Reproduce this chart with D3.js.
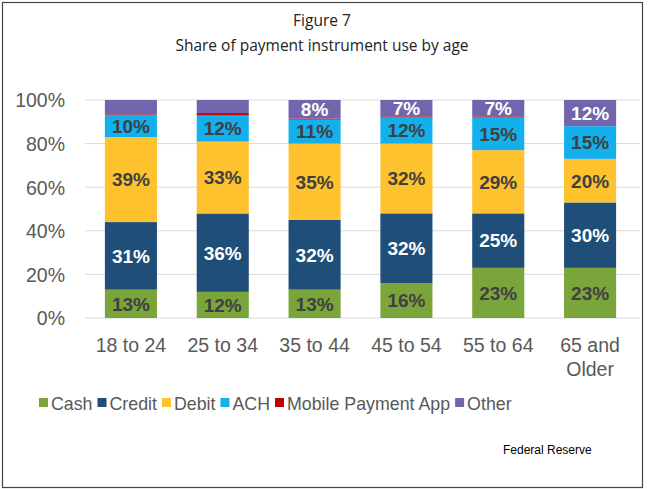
<!DOCTYPE html>
<html>
<head>
<meta charset="utf-8">
<script src="https://cdn.jsdelivr.net/npm/d3@7"></script>
<style>
  body { margin: 0; background: #fff; }
  svg { display: block; }
</style>
</head>
<body>
<div class="canvas"></div>
<script>
const ages = ['18 to 24', '25 to 34', '35 to 44', '45 to 54', '55 to 64', '65 and Older'];
const seriesNames = ['Cash', 'Credit', 'Debit', 'ACH', 'Mobile Payment App', 'Other'];

// share (%) per age group, one array per instrument
const cash   = [13, 12, 13, 16, 23, 23];
const credit = [31, 36, 32, 32, 25, 30];
const debit  = [39, 33, 35, 32, 29, 20];
const ach    = [10, 12, 11, 12, 15, 15];
const mobile = [0.4, 1.1, 0.5, 0.5, 0.5, 0];
const other  = [6.6, 6, 8.5, 7.5, 7.5, 12];

// labels shown on the Other segments (null = no label)
const otherLabels = [null, null, '8%', '7%', '7%', '12%'];

const yTicks = [0, 0.2, 0.4, 0.6, 0.8, 1];

const colors = ['#7aa53a', '#1f4e79', '#fec22f', '#13b0ec', '#c00000', '#7166ad'];
const labelFill = ['#404040', '#fff', '#404040', '#404040', null, '#fff'];

const dims = { width: 663, height: 489 };
const plot = { left: 85, right: 636, top: 100, bottom: 318 };

const svg = d3.select('.canvas')
  .append('svg')
  .attr('width', dims.width)
  .attr('height', dims.height);

svg.append('rect')
  .attr('x', 2.5).attr('y', 2.5)
  .attr('width', 640).attr('height', 485)
  .attr('fill', '#fff')
  .attr('stroke', '#444')
  .attr('stroke-width', 1.2);

// title
const titleFont = '"Open Sans", sans-serif';
svg.append('text')
  .attr('x', 322).attr('y', 26)
  .attr('text-anchor', 'middle')
  .attr('font-family', titleFont)
  .attr('font-size', 15.5)
  .attr('fill', '#222')
  .text('Figure 7');
svg.append('text')
  .attr('x', 322).attr('y', 51)
  .attr('text-anchor', 'middle')
  .attr('font-family', titleFont)
  .attr('font-size', 15.5)
  .attr('fill', '#222')
  .text('Share of payment instrument use by age');

const table = ages.map((age, i) => ({
  age,
  Cash: cash[i], Credit: credit[i], Debit: debit[i], ACH: ach[i],
  'Mobile Payment App': mobile[i], Other: other[i]
}));

const stack = d3.stack().keys(seriesNames).offset(d3.stackOffsetExpand);
const stacked = stack(table);

const x = d3.scaleBand()
  .domain(ages)
  .range([plot.left, plot.right])
  .paddingInner(0.433)
  .paddingOuter(0.2165);

const y = d3.scaleLinear()
  .domain([0, 1])
  .range([plot.bottom, plot.top]);

const font = '"Liberation Sans", Arial, sans-serif';
const axisSize = 19.5;

// gridlines
svg.append('g')
  .selectAll('line')
  .data(yTicks)
  .enter().append('line')
  .attr('x1', plot.left).attr('x2', 640)
  .attr('y1', d => y(d)).attr('y2', d => y(d))
  .attr('stroke', '#d9d9d9')
  .attr('stroke-width', 1);

// y axis
const yAxis = svg.append('g')
  .attr('transform', `translate(${plot.left - 20}, 0)`)
  .call(d3.axisLeft(y).tickValues(yTicks).tickFormat(d3.format('.0%')).tickSize(0).tickPadding(0));
yAxis.select('.domain').remove();
yAxis.selectAll('text')
  .attr('font-family', font)
  .attr('font-size', axisSize)
  .attr('fill', '#595959')
  .attr('dy', '0.35em');

// x axis labels
const xAxis = svg.append('g')
  .attr('transform', `translate(0, ${plot.bottom})`)
  .call(d3.axisBottom(x).tickSize(0).tickPadding(0).tickFormat(''));
xAxis.select('.domain').remove();
xAxis.selectAll('.tick').each(function (d) {
  const t = d3.select(this).append('text')
    .attr('text-anchor', 'middle')
    .attr('font-family', font)
    .attr('font-size', axisSize)
    .attr('fill', '#595959');
  const parts = d === '65 and Older' ? ['65 and', 'Older'] : [d];
  parts.forEach((p, k) => {
    t.append('tspan').attr('x', 0).attr('y', 34 + k * 24).text(p);
  });
});

// bars
const layers = svg.append('g')
  .selectAll('g')
  .data(stacked)
  .enter().append('g')
  .attr('fill', (d, i) => colors[i]);

layers.selectAll('rect')
  .data(d => d)
  .enter().append('rect')
  .attr('x', d => x(d.data.age))
  .attr('width', x.bandwidth())
  .attr('y', d => y(d[1]))
  .attr('height', d => y(d[0]) - y(d[1]));

// segment labels
const labels = svg.append('g')
  .attr('font-family', font)
  .attr('font-weight', 'bold')
  .attr('font-size', 19)
  .attr('text-anchor', 'middle');

stacked.forEach((layer, si) => {
  if (!labelFill[si]) return;
  layer.forEach((d, i) => {
    let txt = Math.round(d.data[layer.key]) + '%';
    if (layer.key === 'Other') txt = otherLabels[i];
    if (!txt) return;
    labels.append('text')
      .attr('x', x(d.data.age) + x.bandwidth() / 2)
      .attr('y', (y(d[0]) + y(d[1])) / 2)
      .attr('dy', '0.36em')
      .attr('fill', labelFill[si])
      .text(txt);
  });
});

// legend
const legend = svg.append('g')
  .attr('font-family', font)
  .attr('font-size', 17.8)
  .attr('fill', '#595959');

let lx = 39;
seriesNames.forEach((name, i) => {
  legend.append('rect')
    .attr('x', lx).attr('y', 398)
    .attr('width', 9).attr('height', 9)
    .attr('fill', colors[i]);
  const t = legend.append('text')
    .attr('x', lx + 12).attr('y', 410)
    .text(name);
  lx += 12 + t.node().getComputedTextLength() + 5;
});

svg.append('text')
  .attr('x', 503).attr('y', 454)
  .attr('font-family', font)
  .attr('font-size', 12)
  .attr('fill', '#000')
  .text('Federal Reserve');
</script>
</body>
</html>
